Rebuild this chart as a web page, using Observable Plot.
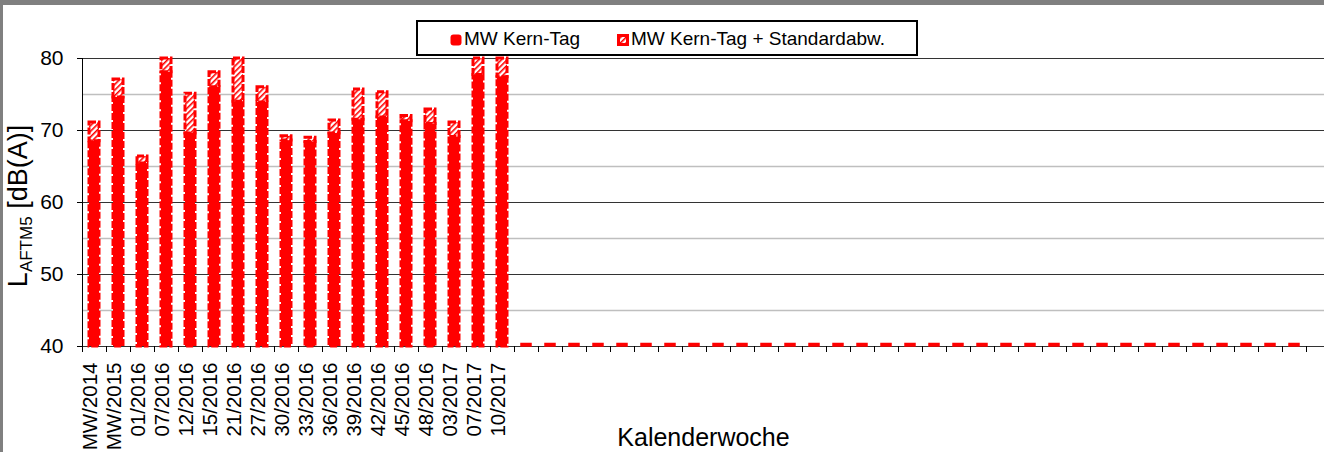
<!DOCTYPE html>
<html>
<head>
<meta charset="utf-8">
<script src="https://cdn.jsdelivr.net/npm/d3@7"></script>
<script src="https://cdn.jsdelivr.net/npm/@observablehq/plot@0.6"></script>
<style>
  html, body { margin: 0; padding: 0; background: #fff; }
  #wrap { position: relative; width: 1324px; height: 452px; overflow: hidden;
          font-family: "Liberation Sans", Arial, sans-serif; background: #fff; }
  #wrap svg.chart { position: absolute; left: 0; top: 0; }
  #topband { position: absolute; left: 0; top: 0; width: 1324px; height: 5px; background: #808080; }
  #leftband { position: absolute; left: 0; top: 0; width: 3px; height: 452px; background: #808080; }
  #legend { position: absolute; left: 416px; top: 20px; width: 502px; height: 36px; box-sizing: border-box;
            border: 2px solid #000; background: #fff; font-size: 19px; color: #000; }
  .item { position: absolute; top: 6px; white-space: nowrap; line-height: 22px; }
  .item svg { vertical-align: -1px; margin-right: 2px; }
</style>
</head>
<body>
<div id="wrap">
  <div id="topband"></div>
  <div id="leftband"></div>
</div>
<script>
// ---- data ----
const weeks = ["MW/2014","MW/2015","01/2016","07/2016","12/2016","15/2016","21/2016","27/2016","30/2016",
  "33/2016","36/2016","39/2016","42/2016","45/2016","48/2016","03/2017","07/2017","10/2017",
  "","","","","","","","","","","","","","","","","","","","","","","","","","","","","","","","",""];
const mwKernTag = [68.5,74.6,65.4,78.1,69.6,76.0,74.0,73.9,68.6,68.4,69.6,71.5,71.8,71.3,70.9,69.1,77.7,77.4,
  0,0,0,0,0,0,0,0,0,0,0,0,0,0,0,0,0,0,0,0,0,0,0,0,0,0,0,0,0,0,0,0,0];
const standardabw = [2.6,2.5,1.0,2.6,5.5,2.1,6.5,2.1,0.6,0.6,1.8,4.2,3.5,0.7,2.0,2.0,2.8,2.8,
  0,0,0,0,0,0,0,0,0,0,0,0,0,0,0,0,0,0,0,0,0,0,0,0,0,0,0,0,0,0,0,0,0];
const yTicks = [40, 50, 60, 70, 80];
const yMinor = [45, 55, 65, 75];
const seriesNames = ["MW Kern-Tag", "MW Kern-Tag + Standardabw."];
const xTitle = "Kalenderwoche";

const table = weeks.map((w, i) => ({i, week: w, mean: mwKernTag[i], top: mwKernTag[i] + standardabw[i]}));
const lastIndex = [table.length - 1];

const RED = "#ff0000";
const font = "'Liberation Sans', Arial, sans-serif";

const plot = Plot.plot({
  width: 1324,
  height: 452,
  marginLeft: 82,
  marginRight: 0,
  marginTop: 58,
  marginBottom: 106,
  style: {fontFamily: font, background: "transparent", color: "#000", overflow: "visible"},
  x: {type: "band", domain: table.map(d => d.i), range: [82, 1306], paddingInner: 0.58, paddingOuter: 0.29},
  y: {domain: [40, 80], clamp: true},
  marks: [
    Plot.ruleY(yMinor, {stroke: "#bfbfbf", strokeWidth: 1.5}),
    Plot.ruleY(yTicks.filter(v => v > 40), {stroke: "#333", strokeWidth: 1}),
    Plot.ruleY([40], {stroke: "#333", strokeWidth: 1}),
    Plot.frame({anchor: "left", stroke: "#000"}),
    Plot.ruleX(table, {x: "i", dx: -12, y1: 40, y2: 40, insetBottom: -6, stroke: "#000"}),
    Plot.ruleX(lastIndex, {x: d => d, dx: 12, y1: 40, y2: 40, insetBottom: -6, stroke: "#000"}),
    // weeks without measurement: Excel shows a flat red stub on the axis
    Plot.barY(table, {filter: d => d.mean <= 40, x: "i", y1: 40, y2: "mean", insetTop: -2.5,
                      fill: RED, stroke: RED, strokeWidth: 1.5}),
    Plot.barY(table, {filter: d => d.mean > 40, x: "i", y1: 40, y2: "mean", fill: RED, stroke: RED,
                      strokeWidth: 3, strokeDasharray: "7 2"}),
    Plot.barY(table, {filter: d => d.mean > 40, x: "i", y1: "mean", y2: "top", fill: "url(#hatch)", stroke: RED,
                      strokeWidth: 3, strokeDasharray: "7 2"}),
    Plot.axisY({ticks: yTicks, tickSize: 5, tickPadding: 14, fontSize: 21, label: null, stroke: "#000"}),
    Plot.axisX({tickRotate: -90, tickSize: 0, tickPadding: 16, fontSize: 20.5, label: null, dx: -4,
                tickFormat: i => weeks[i]}),
    Plot.text([xTitle], {frameAnchor: "bottom", lineAnchor: "bottom", dy: 99, fontSize: 25})
  ]
});
plot.classList.add("chart");

const svg = d3.select(plot);
const defs = svg.insert("defs", ":first-child");
const pat = defs.append("pattern").attr("id", "hatch").attr("patternUnits", "userSpaceOnUse")
  .attr("width", 4).attr("height", 4).attr("patternTransform", "rotate(45)");
pat.append("rect").attr("width", 4).attr("height", 4).attr("fill", "#fff");
pat.append("rect").attr("width", 1.6).attr("height", 4).attr("fill", RED);

// y-axis title with subscript
const yl = svg.append("text")
  .attr("transform", "translate(27,206) rotate(-90)")
  .attr("text-anchor", "middle")
  .attr("font-family", font)
  .attr("fill", "#000");
yl.append("tspan").attr("font-size", 27).text("L");
yl.append("tspan").attr("font-size", 17).attr("dy", 5).text("AFTM5");
yl.append("tspan").attr("font-size", 27).attr("dy", -5).text(" [dB(A)]");

const wrap = document.getElementById("wrap");
wrap.insertBefore(plot, wrap.firstChild);

// legend
const legend = document.createElement("div");
legend.id = "legend";
legend.innerHTML = `
  <div class="item" style="left:32px">
    <svg width="12" height="12"><rect x="0.5" y="0.5" width="11" height="11" rx="3" fill="${RED}"/></svg>${seriesNames[0]}</div>
  <div class="item" style="left:199px">
    <svg width="12" height="12"><defs><pattern id="hatchL" patternUnits="userSpaceOnUse" width="4" height="4" patternTransform="rotate(45)"><rect width="4" height="4" fill="#fff"/><rect width="1.6" height="4" fill="${RED}"/></pattern></defs><rect x="1.5" y="1.5" width="9" height="9" fill="url(#hatchL)" stroke="${RED}" stroke-width="3"/></svg>${seriesNames[1]}</div>`;
wrap.appendChild(legend);
</script>
</body>
</html>
